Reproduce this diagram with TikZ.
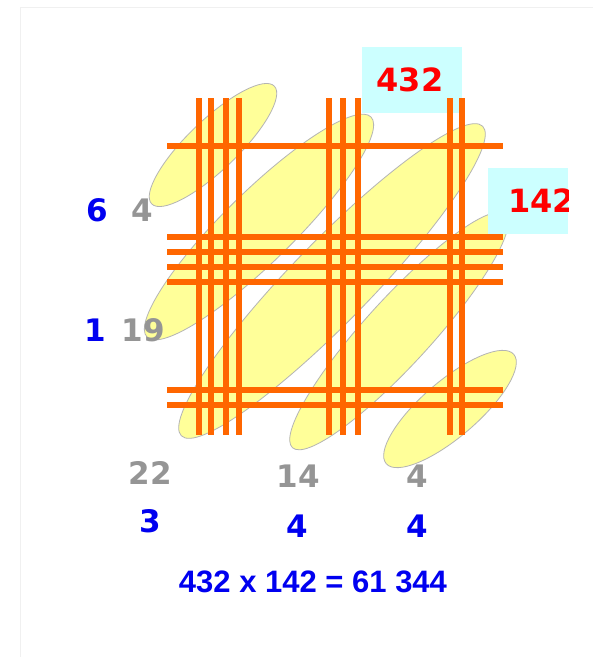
\documentclass[tikz,border=0pt]{standalone}
\usepackage{fontspec}
\setmainfont{DejaVu Sans}
\newfontfamily\eqfont{Liberation Sans}
\definecolor{orng}{HTML}{FF6600}
\definecolor{blobfill}{HTML}{FFFF99}
\definecolor{blobline}{HTML}{B4B4B4}
\definecolor{cyanbox}{HTML}{CCFFFF}
\definecolor{bluenum}{HTML}{0000F0}
\definecolor{graynum}{HTML}{959595}
\definecolor{rednum}{HTML}{FF0000}
\begin{document}
\begin{tikzpicture}[x=1pt,y=-1pt,
  blobshape/.style={fill=blobfill,draw=blobline,line width=0.8pt},
  rod/.style={draw=orng,line width=5.5pt},
  numtxt/.style={inner sep=0pt,anchor=base,font=\fontsize{31}{33}\selectfont\bfseries},
  bluet/.style={numtxt,text=bluenum},
  grayt/.style={numtxt,text=graynum},
  redt/.style={numtxt,text=rednum,font=\fontsize{32}{34}\selectfont\bfseries},
  eqt/.style={inner sep=0pt,anchor=base,text=bluenum,font=\eqfont\fontsize{31}{33}\selectfont\bfseries}]
\useasboundingbox (0,0) rectangle (593,657);
\fill[white] (0,0) rectangle (593,657);
\draw[black!6,line width=1pt] (20,657) -- (20,7) -- (593,7);
% diagonal blobs
\draw[blobshape,rotate around={43.8:(213,145)}] (213,145) ellipse [x radius=85,y radius=25];
\draw[blobshape,rotate around={44.5:(259,227)}] (259,227) ellipse [x radius=157,y radius=35];
\draw[blobshape,rotate around={45.8:(332,281)}] (332,281) ellipse [x radius=216,y radius=40];
\draw[blobshape,rotate around={47.6:(399,331)}] (399,331) ellipse [x radius=158,y radius=33];
\draw[blobshape,rotate around={40.6:(450,409)}] (450,409) ellipse [x radius=84,y radius=28];
% boxes
\fill[cyanbox] (362,47) rectangle (462,113);
\fill[cyanbox] (488,168) rectangle (568,234);
% vertical rods (432)
\foreach \xx in {199,211,226,239,329,343,358,450,462}
  \draw[rod] (\xx,98) -- (\xx,435);
% horizontal rods (142)
\foreach \yy in {146,237,252,267,282,390,405}
  \draw[rod] (167,\yy) -- (503,\yy);
% factors
\node[redt] (fa) at (410,91) {432};
\begin{scope}
  \clip (488,168) rectangle (568,234);
  \node[redt,anchor=base west] (fb) at (508,212) {142};
\end{scope}
% left labels
\node[bluet] (l1) at (97,221) {6};
\node[grayt] (l2) at (142,221) {4};
\node[bluet] (l3) at (95,341) {1};
\node[grayt] (l4) at (143,341) {19};
% bottom labels
\node[grayt] (b1) at (150,484) {22};
\node[grayt] (b2) at (298,487) {14};
\node[grayt] (b3) at (417,487) {4};
\node[bluet] (c1) at (150,532) {3};
\node[bluet] (c2) at (297,537) {4};
\node[bluet] (c3) at (417,537) {4};
\node[eqt] (eq) at (313,592) {432 x 142 = 61 344};
\end{tikzpicture}
\end{document}
